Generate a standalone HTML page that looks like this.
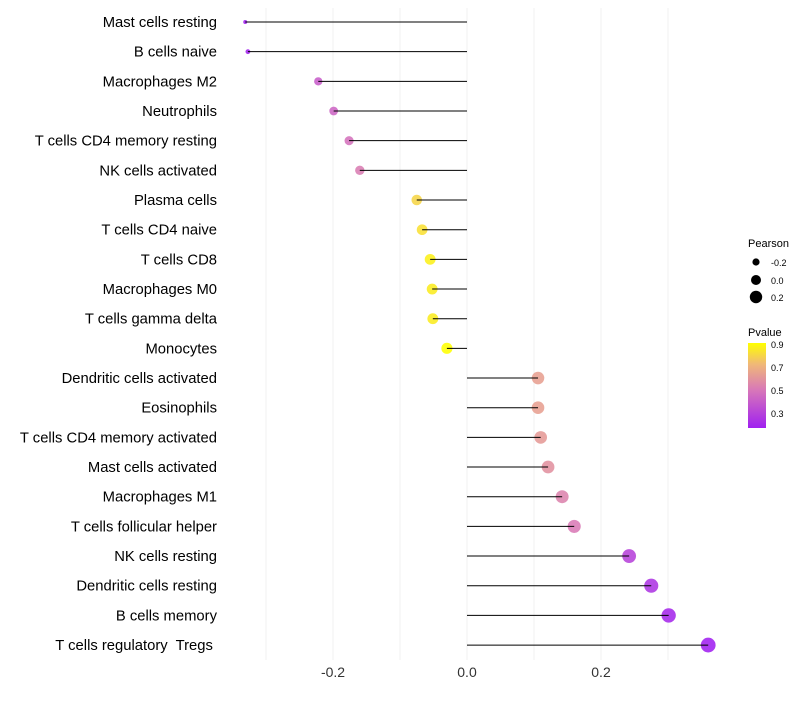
<!DOCTYPE html>
<html><head><meta charset="utf-8"><style>
body{margin:0;background:#fff;font-family:"Liberation Sans",sans-serif}
</style></head><body>
<svg id="chart" width="800" height="700" xmlns="http://www.w3.org/2000/svg">
<g id="grid"></g><g id="marks"></g><g id="labels"></g>
<g id="legend">
<text x="748" y="247" font-size="11">Pearson</text>
<circle cx="756" cy="262" r="3.6" fill="#000"/>
<text x="771" y="266" font-size="9">-0.2</text>
<circle cx="756" cy="280" r="5" fill="#000"/>
<text x="771" y="284" font-size="9">0.0</text>
<circle cx="756" cy="297" r="6.2" fill="#000"/>
<text x="771" y="301" font-size="9">0.2</text>
<text x="748" y="336" font-size="11">Pvalue</text>
<defs><linearGradient id="pg" x1="0" y1="1" x2="0" y2="0">
<stop offset="0" stop-color="#A020F0"/><stop offset="0.45" stop-color="#D878B8"/><stop offset="0.75" stop-color="#F0B878"/><stop offset="1" stop-color="#FFFF00"/></linearGradient></defs>
<rect x="748" y="343" width="18" height="85" fill="url(#pg)"/>
<text x="771" y="348" font-size="9">0.9</text>
<text x="771" y="371" font-size="9">0.7</text>
<text x="771" y="394" font-size="9">0.5</text>
<text x="771" y="417" font-size="9">0.3</text>
</g>
</svg>
<script>
const categories=["Mast cells resting","B cells naive","Macrophages M2","Neutrophils","T cells CD4 memory resting","NK cells activated","Plasma cells","T cells CD4 naive","T cells CD8","Macrophages M0","T cells gamma delta","Monocytes","Dendritic cells activated","Eosinophils","T cells CD4 memory activated","Mast cells activated","Macrophages M1","T cells follicular helper","NK cells resting","Dendritic cells resting","B cells memory","T cells regulatory  Tregs "];
const pearson=[-0.331,-0.327,-0.222,-0.199,-0.176,-0.160,-0.075,-0.067,-0.055,-0.052,-0.051,-0.030,0.106,0.106,0.110,0.121,0.142,0.160,0.242,0.275,0.301,0.360];
const pvalue=[0.17,0.18,0.40,0.43,0.48,0.52,0.80,0.83,0.87,0.86,0.86,0.92,0.64,0.64,0.62,0.59,0.54,0.51,0.3,0.25,0.2,0.13];
const xTicks=[-0.2,0.0,0.2];
const xGrid=[-0.3,-0.2,-0.1,0,0.1,0.2,0.3];
const NS="http://www.w3.org/2000/svg";
const xs=v=>467+v*670;
const ys=i=>22+i*29.67;
const pmin=Math.min(...pearson),pmax=Math.max(...pearson);
const rs=v=>2+5.4*Math.sqrt((v-pmin)/(pmax-pmin));
function lerp(a,b,t){return a.map((x,k)=>Math.round(x+(b[k]-x)*t));}
const stops=[[0,[160,32,240]],[0.45,[216,120,184]],[0.75,[240,184,120]],[1,[255,255,0]]];
function col(p){let t=(p-0.17)/(0.91-0.17);t=Math.max(0,Math.min(1,t));
for(let k=1;k<stops.length;k++){if(t<=stops[k][0]){const a=stops[k-1],b=stops[k];const c=lerp(a[1],b[1],(t-a[0])/(b[0]-a[0]));return `rgb(${c})`;}}return "rgb(255,255,0)";}
function mk(tag,attrs,parent){const e=document.createElementNS(NS,tag);for(const k in attrs)e.setAttribute(k,attrs[k]);document.getElementById(parent).appendChild(e);return e;}
xGrid.forEach(v=>{const l=mk("line",{x1:xs(v),x2:xs(v),y1:8,y2:660,stroke:"#f2f2f2","stroke-width":1},"grid");

});
categories.forEach((c,i)=>{const y=ys(i);
const t=mk("text",{x:217,y:y+5,"text-anchor":"end","font-size":14.8,fill:"#000","xml:space":"preserve"},"labels");t.style.whiteSpace="pre";t.textContent=c;


const d=mk("circle",{cx:xs(pearson[i]),cy:y,r:rs(pearson[i]),fill:col(pvalue[i]),"fill-opacity":0.88},"marks");


const l=mk("line",{x1:xs(0),x2:xs(pearson[i]),y1:y,y2:y,stroke:"#000","stroke-width":1},"marks");

});
xTicks.forEach(v=>{const t=mk("text",{x:xs(v),y:677,"text-anchor":"middle","font-size":14,fill:"#333"},"labels");t.textContent=v.toFixed(1);

});
</script>
</body></html>
